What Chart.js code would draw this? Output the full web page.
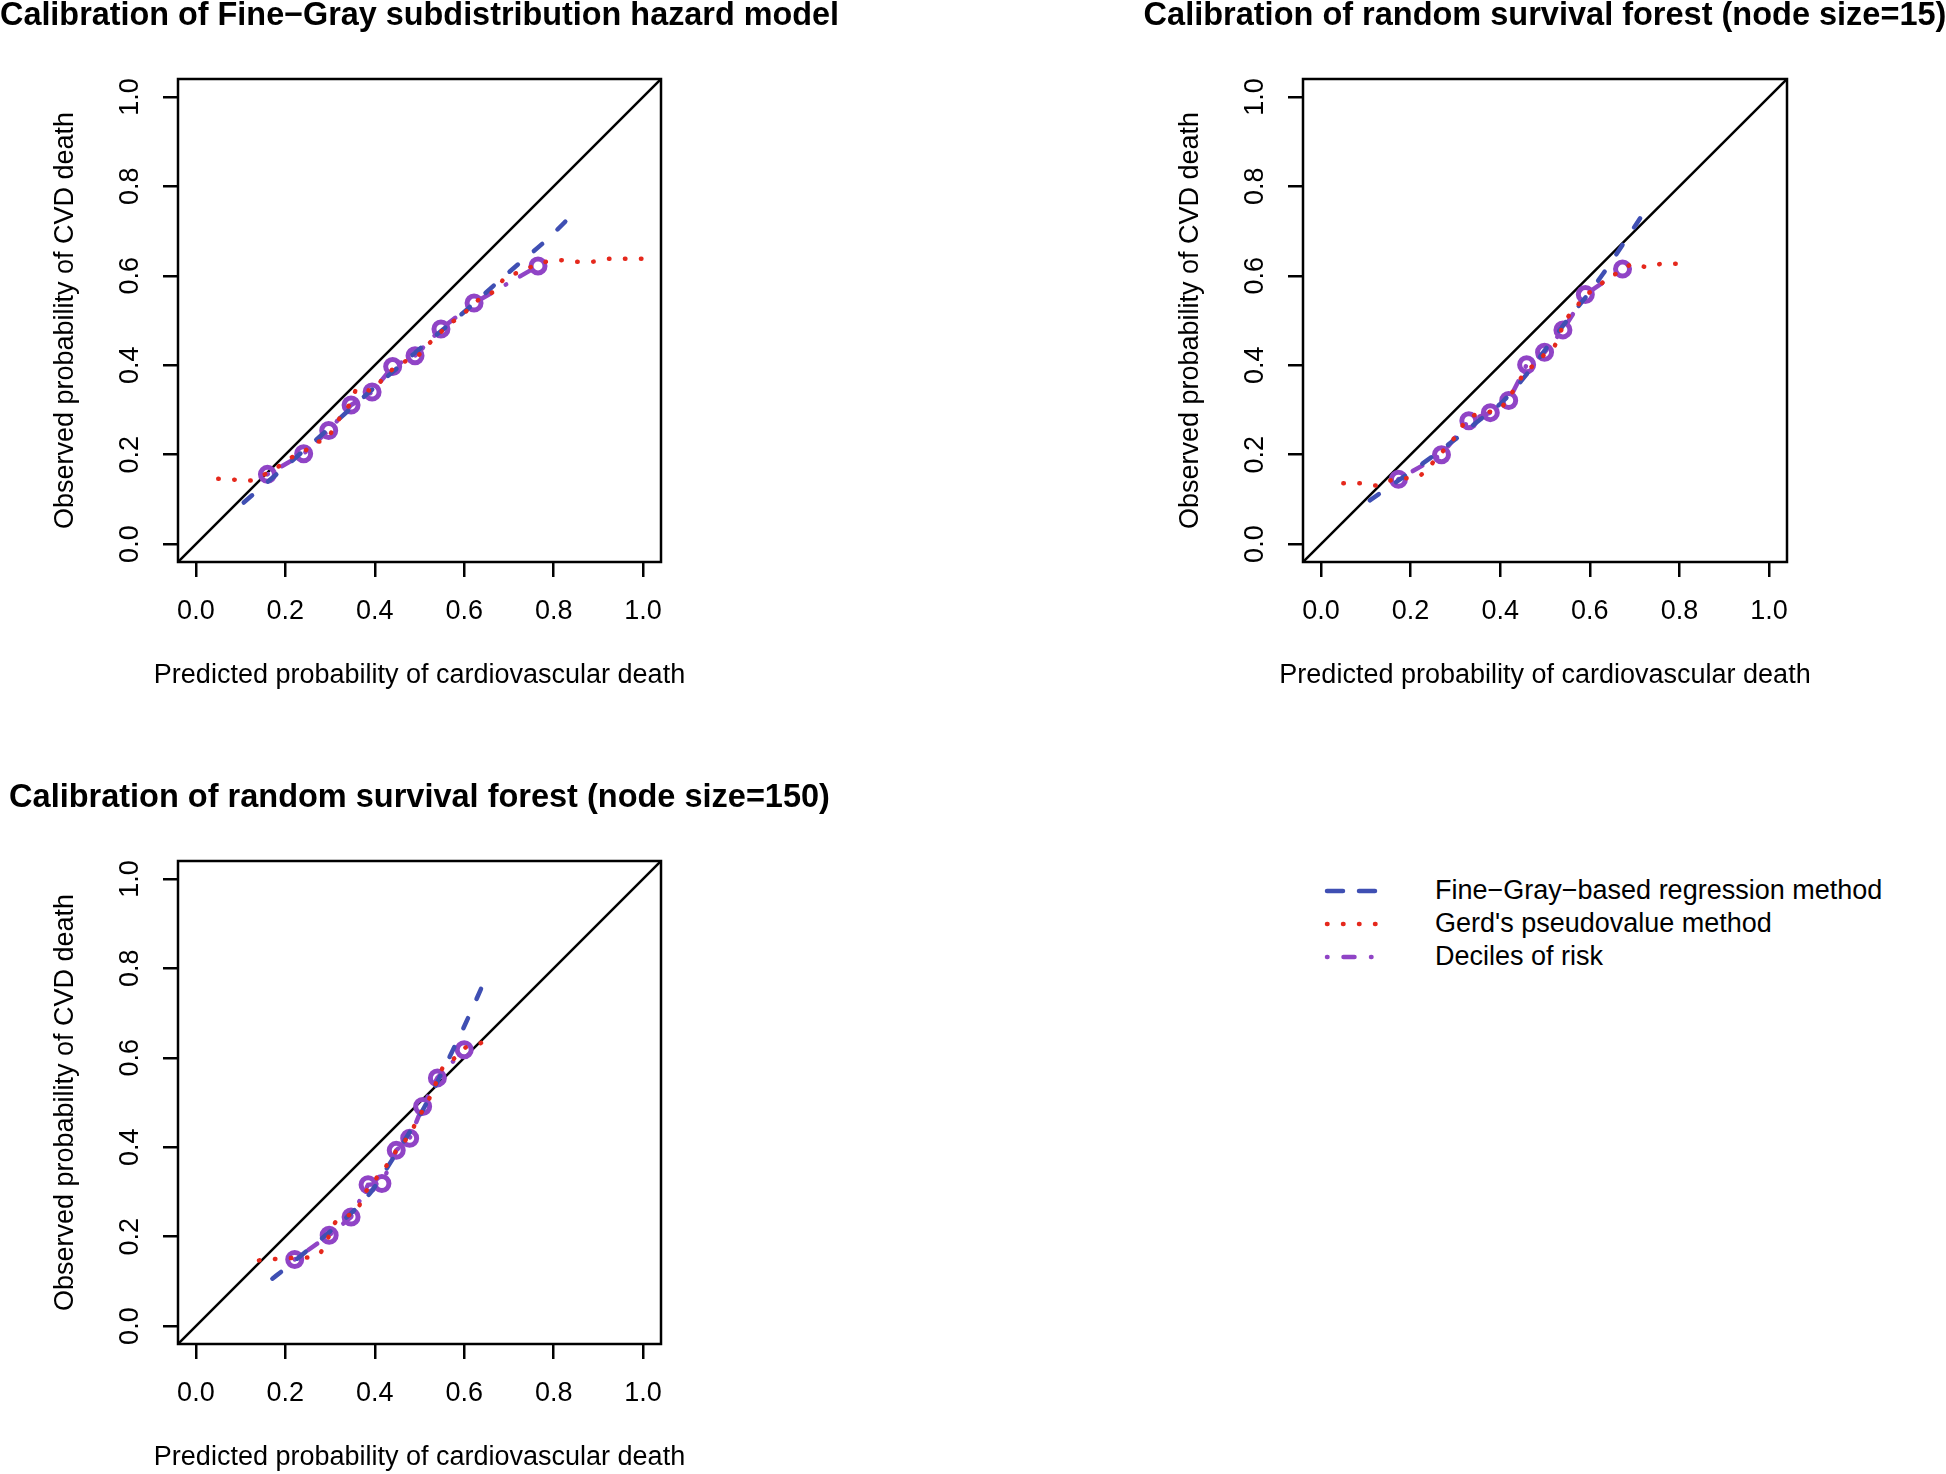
<!DOCTYPE html>
<html>
<head>
<meta charset="utf-8">
<script src="https://cdn.jsdelivr.net/npm/chart.js@4/dist/chart.umd.min.js"></script>
<style>
  html, body { margin: 0; padding: 0; background: #ffffff; overflow: hidden; width: 1946px; height: 1474px; }
  canvas { position: absolute; }
  #legend { position: absolute; left: 1324px; top: 874px; font-family: 'Liberation Sans', Arial, Helvetica, sans-serif; font-size: 27px; color: #000; }
  .row { height: 33px; display: flex; align-items: center; white-space: nowrap; }
  .row svg { width: 56px; height: 12px; margin-right: 55px; flex: none; }
</style>
</head>
<body>
<canvas id="c1" width="839" height="692" style="left:0px;top:0px;"></canvas>
<canvas id="c2" width="840" height="692" style="left:1125px;top:0px;"></canvas>
<canvas id="c3" width="839" height="692" style="left:0px;top:782px;"></canvas>
<div id="legend"></div>
<script>
// ---------------- data ----------------
const tickValues = [0, 0.2, 0.4, 0.6, 0.8, 1.0];
const tickLabels = ['0.0', '0.2', '0.4', '0.6', '0.8', '1.0'];
const axisMin = -0.04;
const axisMax = 1.04;
const xAxisTitle = 'Predicted probability of cardiovascular death';
const yAxisTitle = 'Observed probability of CVD death';
const panelTitles = [
  'Calibration of Fine\u2212Gray subdistribution hazard model',
  'Calibration of random survival forest (node size=15)',
  'Calibration of random survival forest (node size=150)'
];
const seriesNames = ['Fine\u2212Gray\u2212based regression method', "Gerd's pseudovalue method", 'Deciles of risk'];

// identity reference line
const refLineX = [-0.04, 1.04];
const refLineY = [-0.04, 1.04];

// Panel 1: Fine-Gray subdistribution hazard model
const fgDecileX = [0.160, 0.241, 0.297, 0.347, 0.394, 0.440, 0.490, 0.548, 0.622, 0.765];
const fgDecileY = [0.156, 0.202, 0.254, 0.311, 0.340, 0.397, 0.421, 0.481, 0.539, 0.622];
const fgRegX = [0.107, 0.281, 0.348, 0.515, 0.609, 0.676, 0.728, 0.784, 0.845];
const fgRegY = [0.093, 0.244, 0.305, 0.449, 0.527, 0.587, 0.632, 0.680, 0.740];
const fgPseudoX = [0.050, 0.087, 0.122, 0.152, 0.182, 0.210, 0.240, 0.267, 0.290, 0.308, 0.326, 0.348, 0.361, 0.393, 0.416, 0.440, 0.467, 0.497, 0.521, 0.545, 0.568, 0.588, 0.612, 0.638, 0.670, 0.692, 0.720, 0.755, 0.786, 0.822, 0.858, 0.894, 0.927, 0.965, 1.001];
const fgPseudoY = [0.146, 0.144, 0.142, 0.155, 0.172, 0.192, 0.205, 0.228, 0.232, 0.259, 0.289, 0.319, 0.349, 0.343, 0.367, 0.391, 0.408, 0.422, 0.448, 0.471, 0.494, 0.505, 0.528, 0.551, 0.568, 0.597, 0.607, 0.622, 0.632, 0.635, 0.631, 0.632, 0.638, 0.638, 0.638];

// Panel 2: random survival forest (node size=15)
const rsf15DecileX = [0.173, 0.269, 0.330, 0.378, 0.419, 0.459, 0.499, 0.540, 0.590, 0.673];
const rsf15DecileY = [0.145, 0.200, 0.276, 0.294, 0.321, 0.401, 0.429, 0.479, 0.558, 0.615];
const rsf15RegX = [0.109, 0.228, 0.307, 0.347, 0.407, 0.452, 0.556, 0.586, 0.630, 0.675, 0.725];
const rsf15RegY = [0.098, 0.181, 0.240, 0.272, 0.320, 0.371, 0.509, 0.546, 0.605, 0.672, 0.748];
const rsf15PseudoX = [0.050, 0.087, 0.122, 0.154, 0.185, 0.217, 0.243, 0.262, 0.281, 0.303, 0.325, 0.344, 0.371, 0.400, 0.416, 0.433, 0.452, 0.478, 0.500, 0.522, 0.537, 0.552, 0.568, 0.586, 0.614, 0.641, 0.669, 0.697, 0.729, 0.763, 0.800];
const rsf15PseudoY = [0.136, 0.136, 0.131, 0.142, 0.147, 0.151, 0.175, 0.196, 0.218, 0.244, 0.278, 0.289, 0.295, 0.302, 0.325, 0.348, 0.380, 0.403, 0.425, 0.444, 0.480, 0.509, 0.526, 0.553, 0.571, 0.596, 0.609, 0.627, 0.619, 0.627, 0.627];

// Panel 3: random survival forest (node size=150)
const rsf150DecileX = [0.221, 0.298, 0.347, 0.385, 0.416, 0.448, 0.478, 0.507, 0.540, 0.600];
const rsf150DecileY = [0.149, 0.203, 0.244, 0.316, 0.319, 0.393, 0.420, 0.491, 0.555, 0.618];
const rsf150RegX = [0.171, 0.195, 0.251, 0.359, 0.393, 0.437, 0.510, 0.575, 0.605, 0.641];
const rsf150RegY = [0.106, 0.125, 0.171, 0.264, 0.302, 0.369, 0.488, 0.618, 0.681, 0.762];
const rsf150PseudoX = [0.141, 0.177, 0.211, 0.244, 0.279, 0.297, 0.311, 0.337, 0.361, 0.374, 0.393, 0.411, 0.431, 0.450, 0.472, 0.488, 0.504, 0.522, 0.537, 0.551, 0.577, 0.603, 0.637, 0.668];
const rsf150PseudoY = [0.147, 0.150, 0.152, 0.153, 0.165, 0.200, 0.231, 0.246, 0.259, 0.292, 0.316, 0.341, 0.365, 0.395, 0.420, 0.447, 0.477, 0.509, 0.544, 0.576, 0.598, 0.623, 0.633, 0.644];

// ---------------- styles ----------------
const FONT = "'Liberation Sans', Arial, Helvetica, sans-serif";
const BLUE = '#3F4FB3';
const RED = '#E5281C';
const PURPLE = '#9044C6';
const DASH_REG = [11, 21];
const DASH_PSEUDO = [0.5, 15.5];
const DASH_DECILE = [0.5, 16, 11, 16.5];

function zip(xs, ys) { return xs.map((x, i) => ({ x: x, y: ys[i] })); }

const boxPlugin = {
  id: 'plotBox',
  afterDatasetsDraw(chart) {
    const a = chart.chartArea;
    const ctx = chart.ctx;
    ctx.save();
    ctx.strokeStyle = '#000';
    ctx.lineWidth = 2.5;
    ctx.strokeRect(a.left, a.top, a.right - a.left, a.bottom - a.top);
    ctx.restore();
  }
};

function makePanel(canvasId, title, decX, decY, regX, regY, psX, psY) {
  return new Chart(document.getElementById(canvasId), {
    type: 'scatter',
    data: {
      datasets: [
        { label: seriesNames[1], data: zip(psX, psY), showLine: true, borderColor: RED, borderWidth: 4.5,
          borderDash: DASH_PSEUDO, borderCapStyle: 'round', pointRadius: 0, cubicInterpolationMode: 'monotone' },
        { label: seriesNames[0], data: zip(regX, regY), showLine: true, borderColor: BLUE, borderWidth: 4.5,
          borderDash: DASH_REG, borderCapStyle: 'round', pointRadius: 0, cubicInterpolationMode: 'monotone' },
        { label: seriesNames[2], data: zip(decX, decY), showLine: true, borderColor: PURPLE, borderWidth: 4.5,
          borderDash: DASH_DECILE, borderCapStyle: 'round', pointRadius: 7, pointBorderWidth: 5,
          pointBorderColor: PURPLE, pointBackgroundColor: 'rgba(0,0,0,0)' },
        { label: 'identity', data: zip(refLineX, refLineY), showLine: true, borderColor: '#000', borderWidth: 2.5,
          pointRadius: 0 }
      ]
    },
    options: {
      responsive: false,
      animation: false,
      events: [],
      layout: { padding: 0 },
      plugins: {
        legend: { display: false },
        tooltip: { enabled: false },
        title: { display: true, text: title, color: '#000',
                 font: { family: FONT, size: 32.5, weight: 'bold', lineHeight: 1 },
                 padding: { top: 0, bottom: 46.5 } },
        subtitle: { display: true, position: 'bottom', text: xAxisTitle, color: '#000',
                    font: { family: FONT, size: 27, weight: 'normal', lineHeight: 1.2 },
                    padding: { top: 0, bottom: 0 } }
      },
      scales: {
        x: {
          type: 'linear', position: 'bottom', min: axisMin, max: axisMax, bounds: 'data',
          afterBuildTicks: s => { s.ticks = tickValues.map(v => ({ value: v })); },
          afterFit: s => { s.height = 97.6; },
          grid: { drawOnChartArea: false, drawTicks: true, tickLength: 15, color: '#000', lineWidth: 2.5 },
          border: { display: false },
          ticks: { color: '#000', font: { family: FONT, size: 27 }, padding: 18, minRotation: 0, maxRotation: 0,
                   autoSkip: false, callback: (v, i) => tickLabels[i] }
        },
        y: {
          type: 'linear', position: 'left', min: axisMin, max: axisMax, bounds: 'data',
          afterBuildTicks: s => { s.ticks = tickValues.map(v => ({ value: v })); },
          afterFit: s => { s.width = 178; },
          grid: { drawOnChartArea: false, drawTicks: true, tickLength: 15, color: '#000', lineWidth: 2.5 },
          border: { display: false },
          ticks: { color: '#000', font: { family: FONT, size: 27 }, padding: 14, minRotation: 90, maxRotation: 90,
                   crossAlign: 'center', autoSkip: false, callback: (v, i) => tickLabels[i] },
          title: { display: true, text: yAxisTitle, color: '#000', font: { family: FONT, size: 27 },
                   padding: { top: 49, bottom: 0 } }
        },
        yRight: {
          type: 'linear', position: 'right', display: true,
          afterFit: s => { s.width = 178; },
          grid: { display: false, drawTicks: false },
          border: { display: false },
          ticks: { display: false }
        }
      }
    },
    plugins: [boxPlugin]
  });
}

makePanel('c1', panelTitles[0], fgDecileX, fgDecileY, fgRegX, fgRegY, fgPseudoX, fgPseudoY);
makePanel('c2', panelTitles[1], rsf15DecileX, rsf15DecileY, rsf15RegX, rsf15RegY, rsf15PseudoX, rsf15PseudoY);
makePanel('c3', panelTitles[2], rsf150DecileX, rsf150DecileY, rsf150RegX, rsf150RegY, rsf150PseudoX, rsf150PseudoY);

// ---------------- legend ----------------
const legendColors = [BLUE, RED, PURPLE];
const legendDashes = [[16, 16], DASH_PSEUDO, DASH_DECILE];
const legendEl = document.getElementById('legend');
seriesNames.forEach((name, i) => {
  const row = document.createElement('div');
  row.className = 'row';
  const svgNS = 'http://www.w3.org/2000/svg';
  const svg = document.createElementNS(svgNS, 'svg');
  svg.setAttribute('viewBox', '0 0 56 12');
  const line = document.createElementNS(svgNS, 'line');
  line.setAttribute('x1', '3'); line.setAttribute('y1', '6');
  line.setAttribute('x2', '53'); line.setAttribute('y2', '6');
  line.setAttribute('stroke', legendColors[i]);
  line.setAttribute('stroke-width', '4.5');
  line.setAttribute('stroke-linecap', 'round');
  line.setAttribute('stroke-dasharray', legendDashes[i].join(' '));
  svg.appendChild(line);
  const span = document.createElement('span');
  span.textContent = name;
  row.appendChild(svg);
  row.appendChild(span);
  legendEl.appendChild(row);
});
</script>
</body>
</html>
